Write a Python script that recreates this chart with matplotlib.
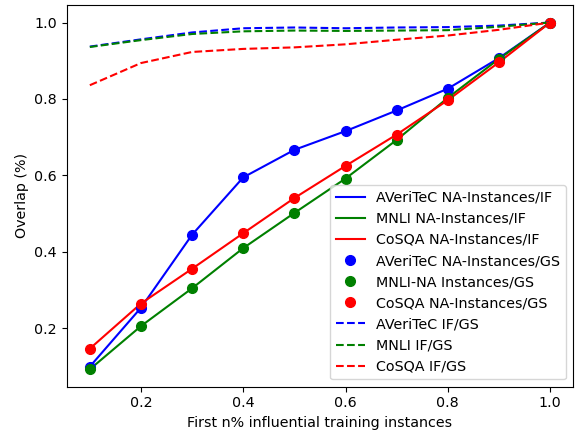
import matplotlib
matplotlib.use("Agg")
import matplotlib.pyplot as plt

x = [0.1, 0.2, 0.3, 0.4, 0.5, 0.6, 0.7, 0.8, 0.9, 1.0]

averitec_na_if = [0.100, 0.254, 0.445, 0.595, 0.667, 0.716, 0.770, 0.827, 0.907, 1.0]
mnli_na_if = [0.093, 0.206, 0.305, 0.410, 0.502, 0.592, 0.693, 0.803, 0.905, 1.0]
cosqa_na_if = [0.147, 0.265, 0.356, 0.449, 0.541, 0.625, 0.707, 0.797, 0.896, 1.0]

averitec_na_gs = [0.100, 0.254, 0.445, 0.595, 0.667, 0.716, 0.770, 0.827, 0.907, 1.0]
mnli_na_gs = [0.093, 0.206, 0.305, 0.410, 0.502, 0.592, 0.693, 0.803, 0.905, 1.0]
cosqa_na_gs = [0.147, 0.265, 0.356, 0.449, 0.541, 0.625, 0.707, 0.797, 0.896, 1.0]

averitec_if_gs = [0.937, 0.956, 0.974, 0.985, 0.987, 0.985, 0.987, 0.988, 0.992, 1.0]
mnli_if_gs = [0.936, 0.954, 0.970, 0.977, 0.979, 0.978, 0.979, 0.980, 0.989, 1.0]
cosqa_if_gs = [0.836, 0.894, 0.923, 0.931, 0.935, 0.943, 0.955, 0.966, 0.981, 1.0]

labels = [
    "AVeriTeC NA-Instances/IF", "MNLI NA-Instances/IF", "CoSQA NA-Instances/IF",
    "AVeriTeC NA-Instances/GS", "MNLI-NA Instances/GS", "CoSQA NA-Instances/GS",
    "AVeriTeC IF/GS", "MNLI IF/GS", "CoSQA IF/GS",
]
colors = ["blue", "green", "red"]

plt.rcParams["font.size"] = 10.3

fig = plt.figure(figsize=(5.76, 4.32), dpi=100)
ax = fig.add_axes([0.116, 0.105, 0.879, 0.883])

for ys, c, lab in zip([averitec_na_if, mnli_na_if, cosqa_na_if], colors, labels[0:3]):
    ax.plot(x, ys, color=c, label=lab)
for ys, c, lab in zip([averitec_na_gs, mnli_na_gs, cosqa_na_gs], colors, labels[3:6]):
    ax.plot(x, ys, "o", color=c, markersize=7, label=lab)
for ys, c, lab in zip([averitec_if_gs, mnli_if_gs, cosqa_if_gs], colors, labels[6:9]):
    ax.plot(x, ys, "--", color=c, label=lab)

ax.set_xlabel("First n% influential training instances")
ax.set_ylabel("Overlap (%)")
ax.legend(loc="lower right")

fig.savefig("out.png", dpi=100)
